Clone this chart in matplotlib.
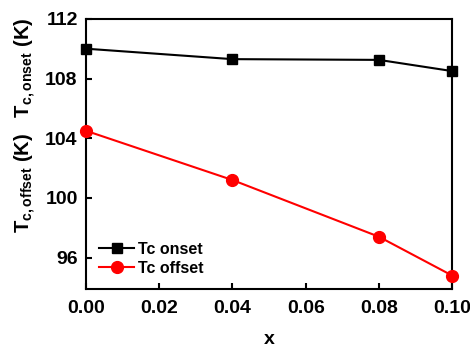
import matplotlib
matplotlib.use("Agg")
import matplotlib.pyplot as plt

x = [0.00, 0.04, 0.08, 0.10]
tc_onset = [110.0, 109.3, 109.25, 108.5]
tc_offset = [104.5, 101.2, 97.4, 94.8]
xticks = [0.00, 0.02, 0.04, 0.06, 0.08, 0.10]
yticks = [96, 100, 104, 108, 112]

plt.rcParams['font.family'] = ['Liberation Sans', 'DejaVu Sans']
plt.rcParams['font.weight'] = 'bold'
plt.rcParams['mathtext.fontset'] = 'custom'
plt.rcParams['mathtext.rm'] = 'Liberation Sans:bold'
plt.rcParams['mathtext.bf'] = 'Liberation Sans:bold'
plt.rcParams['mathtext.it'] = 'Liberation Sans:bold'

fig = plt.figure(figsize=(4.7, 3.49), dpi=100)
ax = fig.add_axes([0.183, 0.172, 0.779, 0.774])

ax.plot(x, tc_onset, color='black', marker='s', markersize=7, lw=1.5, label='Tc onset', clip_on=False, zorder=3)
ax.plot(x, tc_offset, color='red', marker='o', markersize=8.5, lw=1.5, label='Tc offset', clip_on=False, zorder=3)

ax.set_xlim(0, 0.10)
ax.set_ylim(93.9, 112)
ax.set_xticks(xticks)
ax.set_xticklabels([f"{v:.2f}" for v in xticks])
ax.set_yticks(yticks)
ax.tick_params(direction='in', length=4.5, width=1.5, labelsize=14, top=False, right=False)
ax.tick_params(axis='x', pad=8)
ax.tick_params(axis='y', pad=6)
for s in ax.spines.values():
    s.set_linewidth(1.5)

fig.text(269 / 470, 1 - 340 / 349, 'x', ha='center', va='center', fontsize=14, fontweight='bold')
fig.text(25 / 470, 1 - 125 / 349,
         r"$\mathrm{T}_{\mathrm{c,offset}}$ (K)   $\mathrm{T}_{\mathrm{c,onset}}$ (K)",
         rotation=90, ha='center', va='center', fontsize=14.5, fontweight='bold')

leg = ax.legend(loc='lower left', frameon=False, fontsize=11.5, handlelength=2.2,
                handletextpad=0.2, borderaxespad=0.2, labelspacing=0.25,
                bbox_to_anchor=(0.01, 0.014))

fig.savefig('out.png', dpi=100)
